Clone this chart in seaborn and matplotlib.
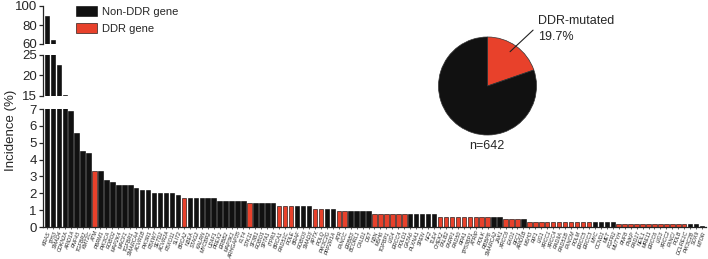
import matplotlib
matplotlib.use("Agg")
import matplotlib.pyplot as plt
import seaborn as sns
import pandas as pd

# genes ranked by incidence (%), n=642
genes = [
    "KRAS", "TP53", "SMAD4", "CDKN2A", "ARID1A", "RNF43", "TGFBR2", "KMT2C", "ATM", "PBRM1",
    "PIK3CA", "ROBO2", "MAP2K4", "MACF1", "TGFBR1", "SMARCA4", "ACVR1B", "PIK3R1", "FBXW7", "SETD2",
    "ACVR2A", "FBXO11", "SLIT2", "BRCA2", "NBEA", "STAG2", "KALRN", "MYCBP2", "U2AF1", "PREX2",
    "ERBB2", "MAP3K1", "ARHGAP35", "FLT4", "STK11", "SF3B1", "ROBO1", "SPTA1", "ITPR3", "BRCA1",
    "RAD51C", "POLE", "BRAF", "ROBO3", "SMAD3", "APTX", "POLQ", "PIK3C2G", "PPP2R1A", "ATR",
    "FANCC", "ERBB3", "BCORL1", "CALD1", "DST", "NBN", "MSH6", "TOPBP1", "LIG4", "ERCC4",
    "POLD1", "GATA6", "PLXNA1", "SPEN", "NF2", "TLE4", "CHEK2", "PALB2", "PARP1", "RAD50",
    "RPA1", "TP53BP1", "ATRIP", "POLK", "RBBP8", "SMARCA2", "JAK1", "XRCC6", "EXO1", "RFC1",
    "ARID1B", "MSH3", "RIF1", "LIG1", "XRCC1", "XRCC4", "RAD9A", "RAD51B", "FANCM", "POLM",
    "ERCC5", "ERCC3", "MYC", "CCND1", "MET", "FGFR2", "MUTYH", "RNF8", "PNKP", "RAD17",
    "NEIL1", "MRE11", "ERCC6", "LIG3", "XRCC2", "FANCI", "POLB", "DCLRE1C", "PIK3C2B", "SOX9",
    "MTOR",
]

incidence = [
    90.0, 64.0, 22.6, 15.3, 6.9, 5.6, 4.5, 4.4, 3.3, 3.3,
    2.8, 2.65, 2.5, 2.5, 2.5, 2.34, 2.18, 2.18, 2.02, 2.02,
    2.02, 2.02, 1.87, 1.71, 1.71, 1.71, 1.71, 1.71, 1.71, 1.56,
    1.56, 1.56, 1.56, 1.56, 1.40, 1.40, 1.40, 1.40, 1.40, 1.25,
    1.25, 1.25, 1.25, 1.25, 1.25, 1.09, 1.09, 1.09, 1.09, 0.93,
    0.93, 0.93, 0.93, 0.93, 0.93, 0.78, 0.78, 0.78, 0.78, 0.78,
    0.78, 0.78, 0.78, 0.78, 0.78, 0.78, 0.62, 0.62, 0.62, 0.62,
    0.62, 0.62, 0.62, 0.62, 0.62, 0.62, 0.62, 0.47, 0.47, 0.47,
    0.47, 0.31, 0.31, 0.31, 0.31, 0.31, 0.31, 0.31, 0.31, 0.31,
    0.31, 0.31, 0.31, 0.31, 0.31, 0.31, 0.16, 0.16, 0.16, 0.16,
    0.16, 0.16, 0.16, 0.16, 0.16, 0.16, 0.16, 0.16, 0.16, 0.16,
    0.05,
]

ddr_genes = [
    "ATM", "BRCA2", "STK11", "BRCA1", "RAD51C", "POLE", "APTX", "POLQ", "ATR", "FANCC",
    "NBN", "MSH6", "TOPBP1", "LIG4", "ERCC4", "POLD1", "CHEK2", "PALB2", "PARP1", "RAD50",
    "RPA1", "TP53BP1", "ATRIP", "POLK", "RBBP8", "XRCC6", "EXO1", "RFC1", "MSH3", "RIF1",
    "LIG1", "XRCC1", "XRCC4", "RAD9A", "RAD51B", "FANCM", "POLM", "ERCC5", "ERCC3", "MUTYH",
    "RNF8", "PNKP", "RAD17", "NEIL1", "MRE11", "ERCC6", "LIG3", "XRCC2", "FANCI", "POLB",
    "DCLRE1C",
]

pie_labels = ["DDR-mutated", "Other"]
pie_values = [19.7, 80.3]
n_patients = 642

RED = "#E8412B"
BLACK = "#111111"
groups = ["Non-DDR gene", "DDR gene"]
palette = {"Non-DDR gene": BLACK, "DDR gene": RED}

df = pd.DataFrame({"gene": genes, "incidence": incidence})
df["group"] = ["DDR gene" if g in ddr_genes else "Non-DDR gene" for g in genes]

sns.set_theme(style="ticks")
plt.rcParams["font.family"] = ["Liberation Sans", "DejaVu Sans"]

W, H = 708, 259
fig = plt.figure(figsize=(W / 100, H / 100), dpi=100)


def box(x0, y_top, x1, y_bot):
    # pixel box (from top-left) -> figure fraction
    return [x0 / W, 1 - y_bot / H, (x1 - x0) / W, (y_bot - y_top) / H]


ax_top = fig.add_axes(box(43, 6, 706, 44))
ax_mid = fig.add_axes(box(43, 55, 706, 96))
ax_bot = fig.add_axes(box(43, 109, 706, 227))

segments = [
    (ax_top, (60, 100), [60, 80, 100]),
    (ax_mid, (15, 25), [15, 20, 25]),
    (ax_bot, (0, 7), list(range(8))),
]
n = len(genes)

for ax, lim, ticks in segments:
    sns.barplot(data=df, x="gene", y="incidence", hue="group", hue_order=groups,
                palette=palette, saturation=1, dodge=False, width=0.75,
                edgecolor="black", linewidth=0.4, ax=ax, legend=(ax is ax_bot))
    ax.set_facecolor("none")
    ax.set_ylim(*lim)
    ax.set_yticks(ticks)
    ax.set_xlim(-0.65, n - 0.35)
    ax.set_xlabel("")
    ax.set_ylabel("")
    ax.tick_params(axis="y", labelsize=9.5, length=3, width=0.9, pad=1.5)
    for s in ax.spines.values():
        s.set_linewidth(0.9)
    sns.despine(ax=ax, top=True, right=True, bottom=(ax is not ax_bot))
    if ax is not ax_bot:
        ax.tick_params(axis="x", bottom=False, labelbottom=False)

ax_bot.set_xticks(range(n))
ax_bot.set_xticklabels(genes, rotation=70, ha="right", va="top", rotation_mode="anchor",
                       fontsize=3.9, style="italic")
ax_bot.tick_params(axis="x", length=1.5, width=0.5, pad=1)

handles, labels = ax_bot.get_legend_handles_labels()
ax_bot.get_legend().remove()
fig.legend(handles, labels, loc="upper left", bbox_to_anchor=(76 / W, 1 - 6 / H),
           frameon=False, fontsize=8, handlelength=1.9, handleheight=1.0,
           handletextpad=0.4, labelspacing=0.6, borderpad=0, borderaxespad=0)

fig.text(11 / W, 1 - 130 / H, "Incidence (%)", rotation=90, ha="center", va="center",
         fontsize=9.5)

# pie of patients with DDR mutations
pie_ax = fig.add_axes(box(437.5, 36, 537.5, 136))
pie_ax.pie(pie_values, colors=[RED, BLACK], startangle=90, counterclock=False,
           wedgeprops=dict(edgecolor="#333333", linewidth=0.5))
pie_ax.set_xlim(-1.02, 1.02)
pie_ax.set_ylim(-1.02, 1.02)
pie_ax.set_aspect("equal")
pie_ax.plot([0.46, 0.93], [0.70, 1.14], color="#222222", lw=0.8, clip_on=False)

fig.text(538 / W, 1 - 29 / H, f"{pie_labels[0]}\n{pie_values[0]}%", ha="left",
         va="center", fontsize=9, linespacing=1.35)
fig.text(487 / W, 1 - 146 / H, f"n={n_patients}", ha="center", va="center", fontsize=9)

fig.savefig("out.png", dpi=100)
